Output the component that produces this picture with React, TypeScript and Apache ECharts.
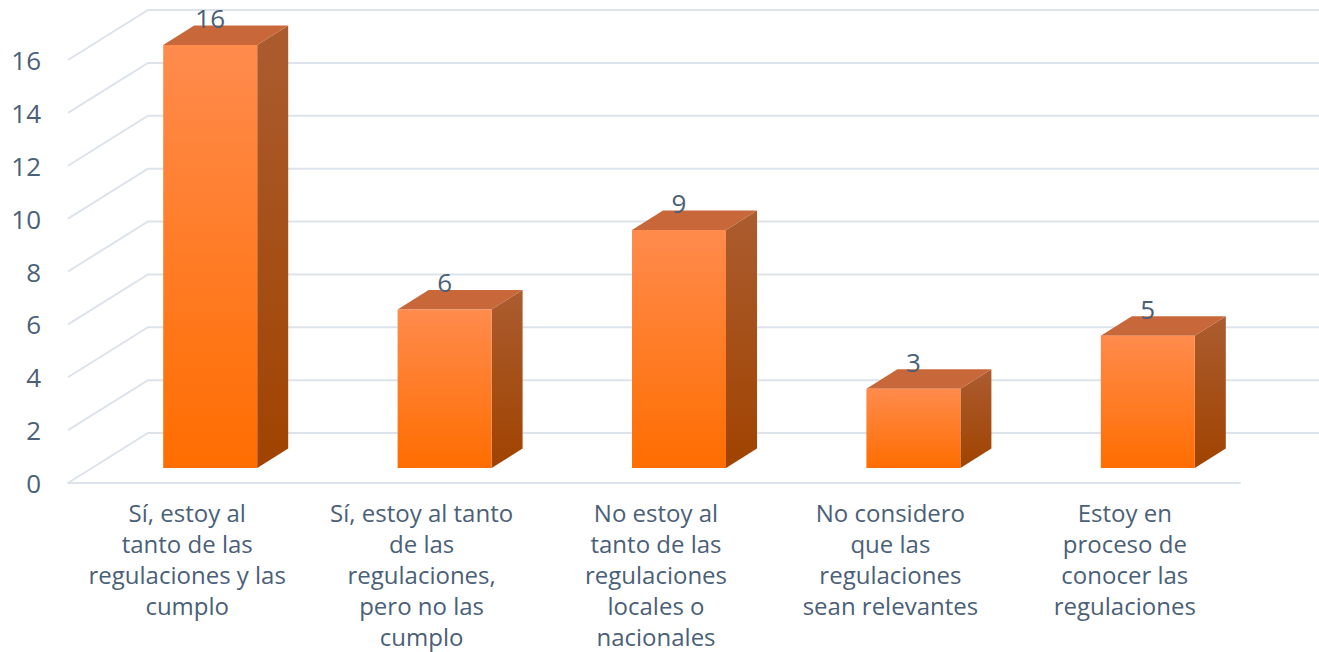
import React, { useEffect, useRef } from "react";
import * as echarts from "echarts";

const categories = [
  "Sí, estoy al\ntanto de las\nregulaciones y las\ncumplo",
  "Sí, estoy al tanto\nde las\nregulaciones,\npero no las\ncumplo",
  "No estoy al\ntanto de las\nregulaciones\nlocales o\nnacionales",
  "No considero\nque las\nregulaciones\nsean relevantes",
  "Estoy en\nproceso de\nconocer las\nregulaciones",
];
const responses = [16, 6, 9, 3, 5];
const gridValues = [0, 2, 4, 6, 8, 10, 12, 14, 16];

const FONT = '"Open Sans"';
const TEXT = "#4b5f78";
const GRID = "#dde3ea";

// Projection of the chart's depth: the back wall sits up and to the right of the front plane.
const WALL_DX = 80;
const WALL_DY = -50;
const BAR_WIDTH = 94;
const BAR_DX = 31;
const BAR_DY = -19.5;
const BAR_SHIFT_X = 25;
const BAR_SHIFT_Y = -15;

const vertical = (top: string, bottom: string) =>
  new echarts.graphic.LinearGradient(0, 0, 0, 1, [
    { offset: 0, color: top },
    { offset: 1, color: bottom },
  ]);

function renderGridLine(params: any, api: any) {
  const rect = params.coordSys;
  const y = api.coord([0, api.value(0)])[1];
  return {
    type: "polyline",
    silent: true,
    shape: {
      points: [
        [rect.x, y],
        [rect.x + WALL_DX, y + WALL_DY],
        [1319, y + WALL_DY],
      ],
    },
    style: { fill: "none", stroke: GRID, lineWidth: 2 },
  };
}

function renderBar(_params: any, api: any) {
  const [cx, top0] = api.coord([api.value(0), api.value(1)]);
  const base0 = api.coord([api.value(0), 0])[1];
  const l = cx + BAR_SHIFT_X - BAR_WIDTH / 2;
  const r = l + BAR_WIDTH;
  const t = top0 + BAR_SHIFT_Y;
  const b = base0 + BAR_SHIFT_Y;
  return {
    type: "group",
    children: [
      {
        type: "polygon",
        shape: { points: [[r, t], [r + BAR_DX, t + BAR_DY], [r + BAR_DX, b + BAR_DY], [r, b]] },
        style: { fill: vertical("#ab5c30", "#a04300") },
      },
      {
        type: "polygon",
        shape: { points: [[l, t], [l + BAR_DX, t + BAR_DY], [r + BAR_DX, t + BAR_DY], [r, t]] },
        style: { fill: "#c8683a" },
      },
      {
        type: "rect",
        shape: { x: l, y: t, width: BAR_WIDTH, height: b - t },
        style: { fill: vertical("#ff8b4d", "#ff6d00") },
      },
      {
        type: "text",
        x: (l + r) / 2,
        y: t - 27,
        style: {
          text: String(api.value(1)),
          font: `26px ${FONT}`,
          fill: TEXT,
          align: "center",
          verticalAlign: "middle",
        },
      },
    ],
  };
}

export default function App() {
  const ref = useRef<HTMLDivElement>(null);

  useEffect(() => {
    document.body.style.margin = "0";
    const chart = echarts.init(ref.current!, undefined, { renderer: "svg" });
    chart.setOption({
      animation: false,
      backgroundColor: "#ffffff",
      grid: { left: 68, top: 60, width: 1172, height: 423, outerBoundsMode: "none" },
      xAxis: {
        type: "category",
        data: categories,
        axisLine: { lineStyle: { color: GRID, width: 2 } },
        axisTick: { show: false },
        axisLabel: {
          interval: 0,
          margin: 14,
          padding: [0, 0, 0, 4],
          color: TEXT,
          fontFamily: FONT,
          fontSize: 24,
          lineHeight: 31,
          align: "center",
          verticalAlign: "top",
        },
      },
      yAxis: {
        type: "value",
        min: 0,
        max: 16,
        interval: 2,
        splitLine: { show: false },
        axisLine: { show: false },
        axisTick: { show: false },
        axisLabel: { margin: 27, color: TEXT, fontFamily: FONT, fontSize: 26 },
      },
      series: [
        {
          type: "custom",
          renderItem: renderGridLine,
          data: gridValues.map((v) => [v]),
          encode: { y: 0 },
          silent: true,
          z: 1,
        },
        {
          type: "custom",
          renderItem: renderBar,
          data: responses.map((v, i) => [i, v]),
          encode: { x: 0, y: 1 },
          z: 2,
        },
      ],
    });
    return () => chart.dispose();
  }, []);

  return <div ref={ref} style={{ position: "absolute", left: 0, top: 0, width: 1319, height: 652 }} />;
}
